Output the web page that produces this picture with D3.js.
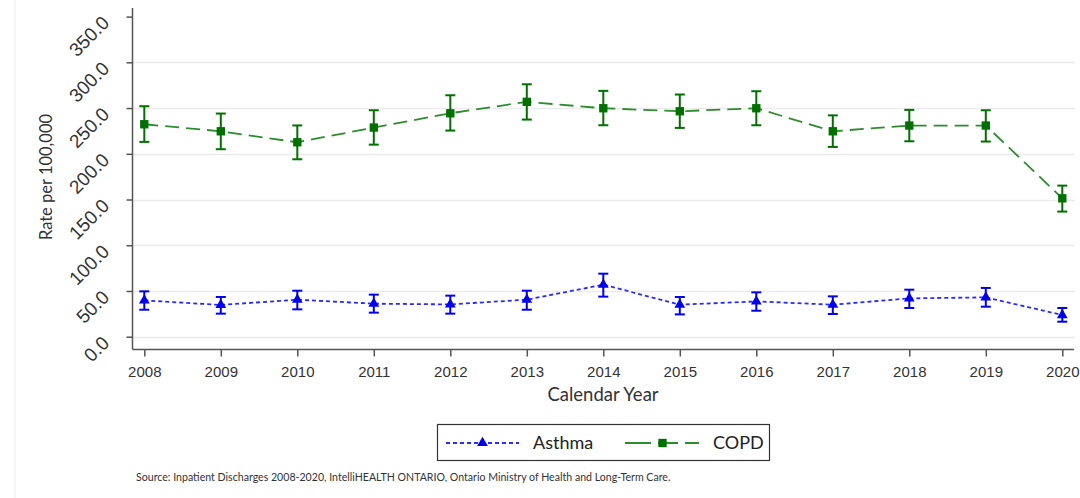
<!DOCTYPE html>
<html>
<head>
<meta charset="utf-8">
<script src="https://cdn.jsdelivr.net/npm/d3@7"></script>
<style>
  body { margin: 0; background: #fff; }
  svg { display: block; font-family: Lato, "Open Sans", sans-serif; }
</style>
</head>
<body>
<svg id="chart" width="1080" height="498"></svg>
<script>
// Hospitalization rates per 100,000 with 95% confidence limits
const years = [2008, 2009, 2010, 2011, 2012, 2013, 2014, 2015, 2016, 2017, 2018, 2019, 2020];

const asthmaRate  = [39.7, 34.7, 40.5, 36.1, 35.3, 40.5, 56.9, 35.0, 38.6, 35.0, 41.9, 43.0, 23.7];
const asthmaLower = [29.5, 25.2, 29.9, 26.3, 25.2, 29.5, 43.8, 24.4, 28.4, 24.8, 31.4, 32.8, 16.4];
const asthmaUpper = [49.6, 43.4, 50.3, 46.0, 44.9, 50.3, 68.9, 43.4, 48.5, 44.1, 51.4, 53.3, 31.4];

const copdRate  = [232.3, 224.6, 212.6, 228.7, 244.3, 256.8, 249.8, 246.5, 249.8, 224.6, 230.9, 230.9, 151.3];
const copdLower = [213.0, 205.0, 194.0, 210.0, 225.4, 237.4, 231.2, 228.3, 231.2, 207.5, 213.7, 213.4, 136.8];
const copdUpper = [252.0, 244.0, 231.0, 247.6, 264.0, 276.0, 268.8, 264.8, 268.4, 242.0, 248.0, 247.6, 165.2];

const yTicks = [0, 50, 100, 150, 200, 250, 300, 350];

const seriesNames = ["Asthma", "COPD"];
const sourceNote = "Source: Inpatient Discharges 2008-2020, IntelliHEALTH ONTARIO, Ontario Ministry of Health and Long-Term Care.";

const svg = d3.select("#chart");

// faint outer frame on the left
svg.append("line").attr("x1", 15).attr("x2", 15).attr("y1", 0).attr("y2", 498)
  .attr("stroke", "#eeeeee").attr("stroke-width", 1);

const axisLeftX = 132.5, axisBottomY = 349.5;
const x = d3.scalePoint().domain(years).range([144.3, 1062.3]);
const y = d3.scaleLinear().domain([0, 350]).range([336.7, 16.6]);

// gridlines
svg.append("g").selectAll("line").data(yTicks.filter(v => v < 350)).join("line")
  .attr("x1", axisLeftX).attr("x2", 1075)
  .attr("y1", d => Math.round(y(d)) + 0.5).attr("y2", d => Math.round(y(d)) + 0.5)
  .attr("stroke", "#ececec").attr("stroke-width", 1.5);

// y axis
const yAxis = svg.append("g").attr("transform", `translate(${axisLeftX},0)`)
  .call(d3.axisLeft(y).tickValues(yTicks).tickSize(6).tickSizeOuter(0).tickFormat(d3.format(".1f")));
yAxis.select(".domain").attr("d", `M0,8V${axisBottomY}`).attr("stroke", "#555").attr("stroke-width", 1.5);
yAxis.selectAll(".tick line").attr("stroke", "#555").attr("stroke-width", 1.5);
yAxis.selectAll(".tick text")
  .attr("x", null).attr("dy", null)
  .attr("text-anchor", "end")
  .attr("transform", "translate(-22,7) rotate(-45)")
  .attr("fill", "#333").attr("font-size", 19);

// x axis
const xAxis = svg.append("g").attr("transform", `translate(0,${axisBottomY})`)
  .call(d3.axisBottom(x).tickSize(7).tickSizeOuter(0).tickFormat(d3.format("d")));
xAxis.select(".domain").attr("d", `M${axisLeftX},0H1074`).attr("stroke", "#555").attr("stroke-width", 1.5);
xAxis.selectAll(".tick line").attr("stroke", "#555").attr("stroke-width", 1.5);
xAxis.selectAll(".tick text").attr("y", 17).attr("dy", "0.71em")
  .attr("fill", "#333").attr("font-size", 15);

// axis titles
svg.append("text").attr("transform", "translate(52,177) rotate(-90)")
  .attr("text-anchor", "middle").attr("font-size", 16.5).attr("fill", "#333")
  .text("Rate per 100,000");
svg.append("text").attr("x", 603).attr("y", 401)
  .attr("text-anchor", "middle").attr("font-size", 18.5).attr("fill", "#333")
  .text("Calendar Year");

const series = [
  { name: seriesNames[0], rate: asthmaRate, lo: asthmaLower, hi: asthmaUpper,
    line: "#2a2aff", mark: "#0000ee", dash: "4,3", shape: d3.symbolTriangle, size: 50 },
  { name: seriesNames[1], rate: copdRate, lo: copdLower, hi: copdUpper,
    line: "#2e8b2e", mark: "#007000", dash: "14,7", shape: d3.symbolSquare, size: 70 }
];

const lineGen = d3.line().x((d, i) => x(years[i])).y(d => y(d));

series.forEach(s => {
  const g = svg.append("g");
  g.append("path").datum(s.rate).attr("d", lineGen)
    .attr("fill", "none").attr("stroke", s.line).attr("stroke-width", 1.8)
    .attr("stroke-dasharray", s.dash);
  const eb = g.append("g").selectAll("g").data(years).join("g");
  eb.append("line")
    .attr("x1", d => x(d)).attr("x2", d => x(d))
    .attr("y1", (d, i) => y(s.lo[i])).attr("y2", (d, i) => y(s.hi[i]))
    .attr("stroke", s.mark).attr("stroke-width", 2);
  [s.lo, s.hi].forEach(arr => {
    eb.append("line")
      .attr("x1", d => x(d) - 5).attr("x2", d => x(d) + 5)
      .attr("y1", (d, i) => y(arr[i])).attr("y2", (d, i) => y(arr[i]))
      .attr("stroke", s.mark).attr("stroke-width", 2);
  });
  g.append("g").selectAll("path").data(s.rate).join("path")
    .attr("transform", (d, i) => `translate(${x(years[i])},${y(d)})`)
    .attr("d", d3.symbol().type(s.shape).size(s.size))
    .attr("fill", s.mark);
});

// legend
const lg = svg.append("g");
lg.append("rect").attr("x", 437.5).attr("y", 424.5).attr("width", 332).attr("height", 36)
  .attr("fill", "#fff").attr("stroke", "#333").attr("stroke-width", 1.2);
const legendItems = [
  { s: series[0], x0: 446, x1: 519, tx: 533 },
  { s: series[1], x0: 625, x1: 700, tx: 713 }
];
legendItems.forEach(it => {
  const cy = 443;
  lg.append("line").attr("x1", it.x0).attr("x2", it.x1).attr("y1", cy).attr("y2", cy)
    .attr("stroke", it.s.line).attr("stroke-width", 1.8)
    .attr("stroke-dasharray", it.s.name === "COPD" ? "26,7,20,7,14" : "4,3");
  lg.append("path").attr("transform", `translate(${(it.x0 + it.x1) / 2},${cy})`)
    .attr("d", d3.symbol().type(it.s.shape).size(it.s.size)).attr("fill", it.s.mark);
  lg.append("text").attr("x", it.tx).attr("y", cy).attr("dy", "0.35em")
    .attr("font-size", 18).attr("fill", "#222").text(it.s.name);
});

// source note
svg.append("text").attr("x", 136).attr("y", 481)
  .attr("font-size", 10.6).attr("fill", "#333").text(sourceNote);
</script>
</body>
</html>
